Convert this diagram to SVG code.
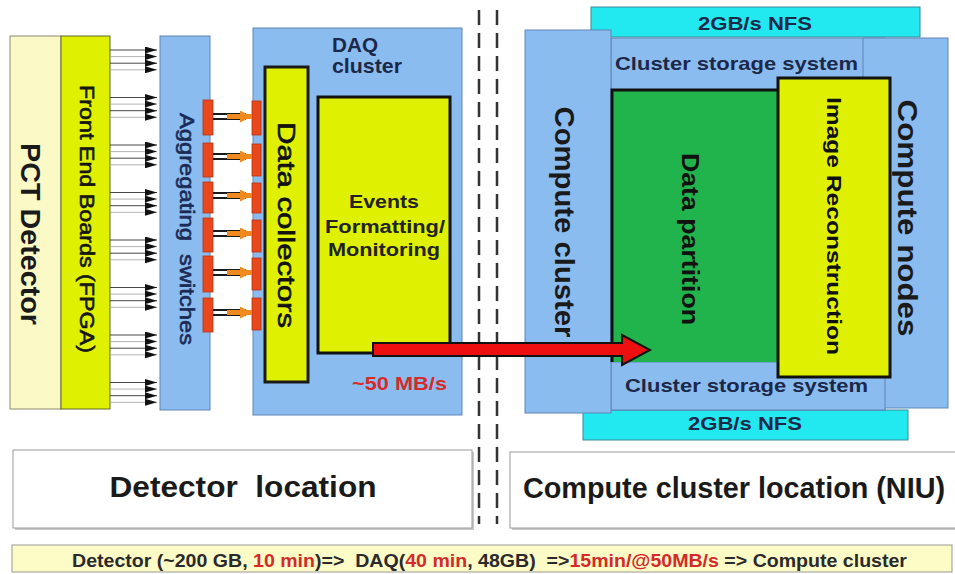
<svg xmlns="http://www.w3.org/2000/svg" width="955" height="574" viewBox="0 0 955 574">
<defs>
<style>
.f{font-family:"Liberation Sans",Arial,sans-serif}
.b{font-weight:bold}
.heavy{stroke-width:0.6;paint-order:stroke}
.blue{fill:#8bbcf0;stroke:#5f86b5;stroke-width:1}
.yg{fill:#dff000}
.cyan{fill:#22e8f0;stroke:#3a8a9a;stroke-width:1}
.navy{fill:#1c2848}
.red{fill:#d62a2a}
.rot{text-anchor:middle;dominant-baseline:central}
.pre{white-space:pre}
.port{fill:#e8481c;stroke:#b8320e;stroke-width:0.8}
.loc{fill:#ffffff;stroke:#9a9a9a;stroke-width:1}
</style>
<marker id="ah" viewBox="0 0 12 7" refX="12" refY="3.5" markerWidth="12" markerHeight="7" markerUnits="userSpaceOnUse" orient="auto">
<path d="M0,0 L12,3.5 L0,7 Z" fill="#111"/>
</marker>
<marker id="oh" viewBox="0 0 12 12" refX="12" refY="6" markerWidth="12" markerHeight="12" markerUnits="userSpaceOnUse" orient="auto">
<path d="M0,0 L12,6 L0,12 Z" fill="#f08a1e"/>
</marker>
</defs>
<rect x="0" y="0" width="955" height="574" fill="#ffffff"/>

<g id="pct-detector">
<rect x="10" y="36" width="51" height="373" fill="#fbf9c6" stroke="#8a8a70" stroke-width="1"/>
<text class="f b rot" transform="translate(30,234) rotate(90)" font-size="28" fill="#1a1a1a" textLength="182" lengthAdjust="spacingAndGlyphs">PCT Detector</text>
</g>

<g id="front-end-boards">
<rect x="61" y="36" width="49" height="373" class="yg" stroke="#60682a" stroke-width="1"/>
<text class="f rot heavy" transform="translate(87,219) rotate(90)" font-size="21" fill="#151515" stroke="#151515" textLength="268" lengthAdjust="spacingAndGlyphs">Front End Boards (FPGA)</text>
</g>

<g id="aggregating-switches">
<rect x="160" y="36" width="50" height="374" class="blue"/>
<text class="f rot pre heavy" transform="translate(187,229) rotate(90)" font-size="21" fill="#1b2a55" stroke="#1b2a55" textLength="232" lengthAdjust="spacingAndGlyphs">Aggregating  switches</text>
</g>

<g id="daq-cluster">
<rect x="253" y="28" width="209" height="387" class="blue"/>
<text class="f b navy" x="332" y="52" font-size="21" textLength="46" lengthAdjust="spacingAndGlyphs">DAQ</text>
<text class="f b navy" x="332" y="73" font-size="21" textLength="70" lengthAdjust="spacingAndGlyphs">cluster</text>
<text class="f b red" x="352" y="390" font-size="18" textLength="95" lengthAdjust="spacingAndGlyphs">~50 MB/s</text>
</g>

<g id="data-collectors">
<rect x="265" y="67" width="43" height="315" class="yg" stroke="#1a1a1a" stroke-width="3"/>
<text class="f rot heavy" transform="translate(286,225) rotate(90)" font-size="24" fill="#111" stroke="#111" textLength="206" lengthAdjust="spacingAndGlyphs">Data collectors</text>
</g>

<g id="events-formatting">
<rect x="318" y="97" width="132" height="256" class="yg" stroke="#111" stroke-width="3"/>
<text class="f b" x="384" y="208" font-size="18" fill="#222" text-anchor="middle" textLength="70" lengthAdjust="spacingAndGlyphs">Events</text>
<text class="f b" x="385" y="233" font-size="18" fill="#222" text-anchor="middle" textLength="120" lengthAdjust="spacingAndGlyphs">Formatting/</text>
<text class="f b" x="384" y="256" font-size="18" fill="#222" text-anchor="middle" textLength="112" lengthAdjust="spacingAndGlyphs">Monitoring</text>
</g>

<g id="ports">
<rect x="203" y="100" width="10" height="35" class="port"/>
<rect x="203" y="143" width="10" height="34" class="port"/>
<rect x="203" y="182" width="10" height="31" class="port"/>
<rect x="203" y="218" width="10" height="34" class="port"/>
<rect x="203" y="256" width="10" height="36" class="port"/>
<rect x="203" y="298" width="10" height="34" class="port"/>
<rect x="252" y="101" width="9" height="34" class="port"/>
<rect x="252" y="144" width="9" height="32" class="port"/>
<rect x="252" y="183" width="9" height="30" class="port"/>
<rect x="252" y="220" width="9" height="32" class="port"/>
<rect x="252" y="258" width="9" height="32" class="port"/>
<rect x="252" y="298" width="9" height="32" class="port"/>
</g>

<g id="divider" stroke="#333" stroke-width="2.5" stroke-dasharray="15 8">
<line x1="479" y1="10" x2="479" y2="524"/>
<line x1="497" y1="10" x2="497" y2="524"/>
</g>

<g id="nfs-top">
<rect x="591" y="7" width="329" height="30" class="cyan"/>
<text class="f b navy" x="755" y="30" font-size="18" text-anchor="middle" textLength="114" lengthAdjust="spacingAndGlyphs">2GB/s NFS</text>
</g>

<g id="nfs-bottom">
<rect x="583" y="410" width="325" height="30" class="cyan"/>
<text class="f b navy" x="745" y="430" font-size="18" text-anchor="middle" textLength="114" lengthAdjust="spacingAndGlyphs">2GB/s NFS</text>
</g>

<g id="cluster-storage">
<rect x="611" y="38" width="274" height="372" class="blue"/>
<text class="f b navy" x="615" y="70" font-size="19" textLength="243" lengthAdjust="spacingAndGlyphs">Cluster storage system</text>
</g>

<g id="compute-nodes">
<rect x="863" y="38" width="85" height="370" class="blue"/>
<text class="f b rot" transform="translate(907,218) rotate(90)" font-size="28" fill="#1a1a1a" textLength="237" lengthAdjust="spacingAndGlyphs">Compute nodes</text>
</g>

<g id="cluster-storage-bottom">
<rect x="611" y="362" width="274" height="48" class="blue"/>
<text class="f b navy" x="625" y="392" font-size="19" textLength="243" lengthAdjust="spacingAndGlyphs">Cluster storage system</text>
</g>

<g id="compute-cluster">
<rect x="525" y="30" width="86" height="383" class="blue"/>
<text class="f b rot" transform="translate(564,222) rotate(90)" font-size="27" fill="#1a1a1a" textLength="231" lengthAdjust="spacingAndGlyphs">Compute cluster</text>
</g>

<g id="data-partition">
<rect x="612" y="90" width="168" height="272" fill="#22b44c"/>
<path d="M612,362 V90 H780" fill="none" stroke="#111" stroke-width="3"/>
<text class="f b rot" transform="translate(690,239) rotate(90)" font-size="23" fill="#111" textLength="172" lengthAdjust="spacingAndGlyphs">Data partition</text>
</g>

<g id="image-reconstruction">
<rect x="778" y="78" width="112" height="299" class="yg" stroke="#111" stroke-width="3"/>
<text class="f b rot" transform="translate(834,226) rotate(90)" font-size="21" fill="#111" textLength="258" lengthAdjust="spacingAndGlyphs">Image Reconstruction</text>
</g>

<g id="connectors">
<g id="fe-links" stroke-width="0.9" marker-end="url(#ah)">
<line x1="110" y1="50" x2="157" y2="50" stroke="#333"/>
<line x1="110" y1="56.6" x2="157" y2="56.6" stroke="#aaa"/>
<line x1="110" y1="63.2" x2="157" y2="63.2" stroke="#333"/>
<line x1="110" y1="69.8" x2="157" y2="69.8" stroke="#aaa"/>
<line x1="110" y1="97.5" x2="157" y2="97.5" stroke="#333"/>
<line x1="110" y1="104.1" x2="157" y2="104.1" stroke="#aaa"/>
<line x1="110" y1="110.7" x2="157" y2="110.7" stroke="#333"/>
<line x1="110" y1="117.3" x2="157" y2="117.3" stroke="#aaa"/>
<line x1="110" y1="145" x2="157" y2="145" stroke="#333"/>
<line x1="110" y1="151.6" x2="157" y2="151.6" stroke="#aaa"/>
<line x1="110" y1="158.2" x2="157" y2="158.2" stroke="#333"/>
<line x1="110" y1="164.8" x2="157" y2="164.8" stroke="#aaa"/>
<line x1="110" y1="192.5" x2="157" y2="192.5" stroke="#333"/>
<line x1="110" y1="199.1" x2="157" y2="199.1" stroke="#aaa"/>
<line x1="110" y1="205.7" x2="157" y2="205.7" stroke="#333"/>
<line x1="110" y1="212.3" x2="157" y2="212.3" stroke="#aaa"/>
<line x1="110" y1="240" x2="157" y2="240" stroke="#333"/>
<line x1="110" y1="246.6" x2="157" y2="246.6" stroke="#aaa"/>
<line x1="110" y1="253.2" x2="157" y2="253.2" stroke="#333"/>
<line x1="110" y1="259.8" x2="157" y2="259.8" stroke="#aaa"/>
<line x1="110" y1="287.5" x2="157" y2="287.5" stroke="#333"/>
<line x1="110" y1="294.1" x2="157" y2="294.1" stroke="#aaa"/>
<line x1="110" y1="300.7" x2="157" y2="300.7" stroke="#333"/>
<line x1="110" y1="307.3" x2="157" y2="307.3" stroke="#aaa"/>
<line x1="110" y1="335" x2="157" y2="335" stroke="#333"/>
<line x1="110" y1="341.6" x2="157" y2="341.6" stroke="#aaa"/>
<line x1="110" y1="348.2" x2="157" y2="348.2" stroke="#333"/>
<line x1="110" y1="354.8" x2="157" y2="354.8" stroke="#aaa"/>
<line x1="110" y1="382.5" x2="157" y2="382.5" stroke="#333"/>
<line x1="110" y1="389.1" x2="157" y2="389.1" stroke="#aaa"/>
<line x1="110" y1="395.7" x2="157" y2="395.7" stroke="#333"/>
<line x1="110" y1="402.3" x2="157" y2="402.3" stroke="#aaa"/>
</g>
<g id="port-links">
<g stroke="#1a1a1a" stroke-width="2.2">
<line x1="213" y1="114" x2="246" y2="114"/><line x1="213" y1="119" x2="246" y2="119"/>
<line x1="213" y1="154" x2="246" y2="154"/><line x1="213" y1="159" x2="246" y2="159"/>
<line x1="213" y1="193" x2="246" y2="193"/><line x1="213" y1="198" x2="246" y2="198"/>
<line x1="213" y1="231" x2="246" y2="231"/><line x1="213" y1="236" x2="246" y2="236"/>
<line x1="213" y1="270" x2="246" y2="270"/><line x1="213" y1="275" x2="246" y2="275"/>
<line x1="213" y1="310" x2="246" y2="310"/><line x1="213" y1="315" x2="246" y2="315"/>
</g>
<g stroke="#f08a1e" stroke-width="5" marker-end="url(#oh)">
<line x1="227" y1="116.5" x2="252" y2="116.5"/>
<line x1="227" y1="156.5" x2="252" y2="156.5"/>
<line x1="227" y1="195.5" x2="252" y2="195.5"/>
<line x1="227" y1="233.5" x2="252" y2="233.5"/>
<line x1="227" y1="272.5" x2="252" y2="272.5"/>
<line x1="227" y1="312.5" x2="252" y2="312.5"/>
</g>
</g>
<path id="main-flow" d="M373,343 H622 V335 L650,350 L622,365 V356 H373 Z" fill="#ee1010" stroke="#111" stroke-width="2"/>
</g>

<g id="detector-location">
<rect x="15" y="452" width="459" height="78" fill="#c8c8c8"/>
<rect x="13" y="450" width="459" height="78" class="loc"/>
<text class="f b pre" x="243" y="497" font-size="30" fill="#1a1a1a" text-anchor="middle" textLength="267" lengthAdjust="spacingAndGlyphs">Detector  location</text>
</g>

<g id="compute-location">
<rect x="512" y="454" width="450" height="76" fill="#c8c8c8"/>
<rect x="510" y="452" width="450" height="76" class="loc"/>
<text class="f b" x="523" y="498" font-size="29" fill="#1a1a1a" textLength="422" lengthAdjust="spacingAndGlyphs">Compute cluster location (NIU)</text>
</g>

<g id="summary">
<rect x="12" y="545" width="940" height="27" fill="#fdfbc6" stroke="#999" stroke-width="1"/>
<text class="f b pre" x="72" y="567" font-size="19" fill="#2a2a2a" textLength="835" lengthAdjust="spacingAndGlyphs">Detector (~200 GB, <tspan fill="#d42a2a">10 min</tspan>)=&gt;  DAQ(<tspan fill="#d42a2a">40 min</tspan>, 48GB)  =&gt;<tspan fill="#d42a2a">15min/@50MB/s</tspan> =&gt; Compute cluster</text>
</g>
</svg>
